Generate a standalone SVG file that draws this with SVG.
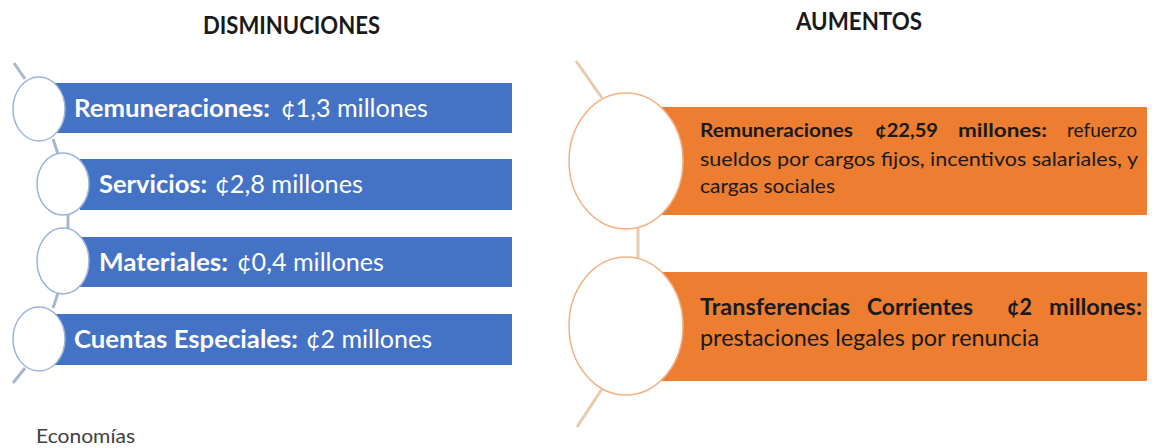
<svg xmlns="http://www.w3.org/2000/svg" width="1152" height="448" viewBox="0 0 1152 448">
<style>
.t{font-family:Lato,"Open Sans","Liberation Sans",sans-serif}
.b{font-weight:bold}
.w{fill:#ffffff}
.k{fill:#1a1a1a}
.bluebar{fill:#4472C4}
.orbar{fill:#ED7D31}
.bc{fill:#ffffff;stroke:#9DB3DC;stroke-width:1.5}
.oc{fill:#ffffff;stroke:#F4B183;stroke-width:1.5}
.bl{stroke:#A8B6CF;stroke-width:3;fill:none}
.ol{stroke:#E6CBB0;stroke-width:3;fill:none}
</style>
<rect width="1152" height="448" fill="#ffffff"/>
<text class="t b k" x="203" y="34" font-size="24" textLength="177" lengthAdjust="spacingAndGlyphs">DISMINUCIONES</text>
<text class="t b k" x="796" y="30" font-size="24" textLength="126" lengthAdjust="spacingAndGlyphs">AUMENTOS</text>
<g id="connectors">
<line class="bl" x1="14" y1="63" x2="25" y2="79"/>
<line class="bl" x1="53" y1="139" x2="58" y2="154"/>
<line class="bl" x1="68" y1="213" x2="68" y2="229"/>
<line class="bl" x1="58" y1="293" x2="53" y2="308"/>
<line class="bl" x1="25" y1="368" x2="13" y2="383"/>
<line class="ol" x1="576" y1="61" x2="602" y2="98"/>
<line class="ol" x1="638" y1="228" x2="638" y2="258"/>
<line class="ol" x1="602" y1="389" x2="577" y2="427"/>
</g>
<g id="dis1">
<rect class="bluebar" x="55" y="83" width="457" height="50"/>
<ellipse class="bc" cx="39" cy="109" rx="26" ry="32"/>
<text class="t b w" x="74" y="117" font-size="25" textLength="196" lengthAdjust="spacingAndGlyphs">Remuneraciones:</text>
<text class="t w" x="281" y="117" font-size="25" textLength="147" lengthAdjust="spacingAndGlyphs">¢1,3 millones</text>
</g>
<g id="dis2">
<rect class="bluebar" x="80" y="159" width="432" height="51"/>
<ellipse class="bc" cx="63" cy="184" rx="26" ry="31"/>
<text class="t b w" x="99" y="193" font-size="25" textLength="108" lengthAdjust="spacingAndGlyphs">Servicios:</text>
<text class="t w" x="215" y="193" font-size="25" textLength="148" lengthAdjust="spacingAndGlyphs">¢2,8 millones</text>
</g>
<g id="dis3">
<rect class="bluebar" x="80" y="237" width="432" height="50"/>
<ellipse class="bc" cx="63" cy="261" rx="26" ry="33"/>
<text class="t b w" x="99" y="271" font-size="25" textLength="129" lengthAdjust="spacingAndGlyphs">Materiales:</text>
<text class="t w" x="237" y="271" font-size="25" textLength="147" lengthAdjust="spacingAndGlyphs">¢0,4 millones</text>
</g>
<g id="dis4">
<rect class="bluebar" x="55" y="314" width="457" height="51"/>
<ellipse class="bc" cx="39" cy="339" rx="26" ry="32"/>
<text class="t b w" x="74" y="348" font-size="25" textLength="224" lengthAdjust="spacingAndGlyphs">Cuentas Especiales:</text>
<text class="t w" x="306" y="348" font-size="25" textLength="126" lengthAdjust="spacingAndGlyphs">¢2 millones</text>
</g>
<g id="aum1">
<rect class="orbar" x="640" y="107" width="507" height="108"/>
<ellipse class="oc" cx="626" cy="161" rx="57" ry="68"/>
<text class="t b k" x="700" y="137" font-size="19" textLength="153" lengthAdjust="spacingAndGlyphs">Remuneraciones</text>
<text class="t b k" x="875" y="137" font-size="19" textLength="63" lengthAdjust="spacingAndGlyphs">¢22,59</text>
<text class="t b k" x="958" y="137" font-size="19" textLength="89" lengthAdjust="spacingAndGlyphs">millones:</text>
<text class="t k" x="1067" y="137" font-size="19" textLength="70" lengthAdjust="spacingAndGlyphs">refuerzo</text>
<text class="t k" x="700" y="166" font-size="19" textLength="438" lengthAdjust="spacingAndGlyphs">sueldos por cargos fijos, incentivos salariales, y</text>
<text class="t k" x="700" y="193" font-size="19" textLength="135" lengthAdjust="spacingAndGlyphs">cargas sociales</text>
</g>
<g id="aum2">
<rect class="orbar" x="640" y="272" width="507" height="109"/>
<ellipse class="oc" cx="626" cy="326" rx="57" ry="69"/>
<text class="t b k" x="700" y="315" font-size="23" textLength="150" lengthAdjust="spacingAndGlyphs">Transferencias</text>
<text class="t b k" x="867" y="315" font-size="23" textLength="106" lengthAdjust="spacingAndGlyphs">Corrientes</text>
<text class="t b k" x="1007" y="315" font-size="23" textLength="25" lengthAdjust="spacingAndGlyphs">¢2</text>
<text class="t b k" x="1049" y="315" font-size="23" textLength="93" lengthAdjust="spacingAndGlyphs">millones:</text>
<text class="t k" x="700" y="346" font-size="23" textLength="339" lengthAdjust="spacingAndGlyphs">prestaciones legales por renuncia</text>
</g>
<text class="t" x="36" y="443" font-size="20" fill="#404040" textLength="99" lengthAdjust="spacingAndGlyphs">Economías</text>
</svg>
